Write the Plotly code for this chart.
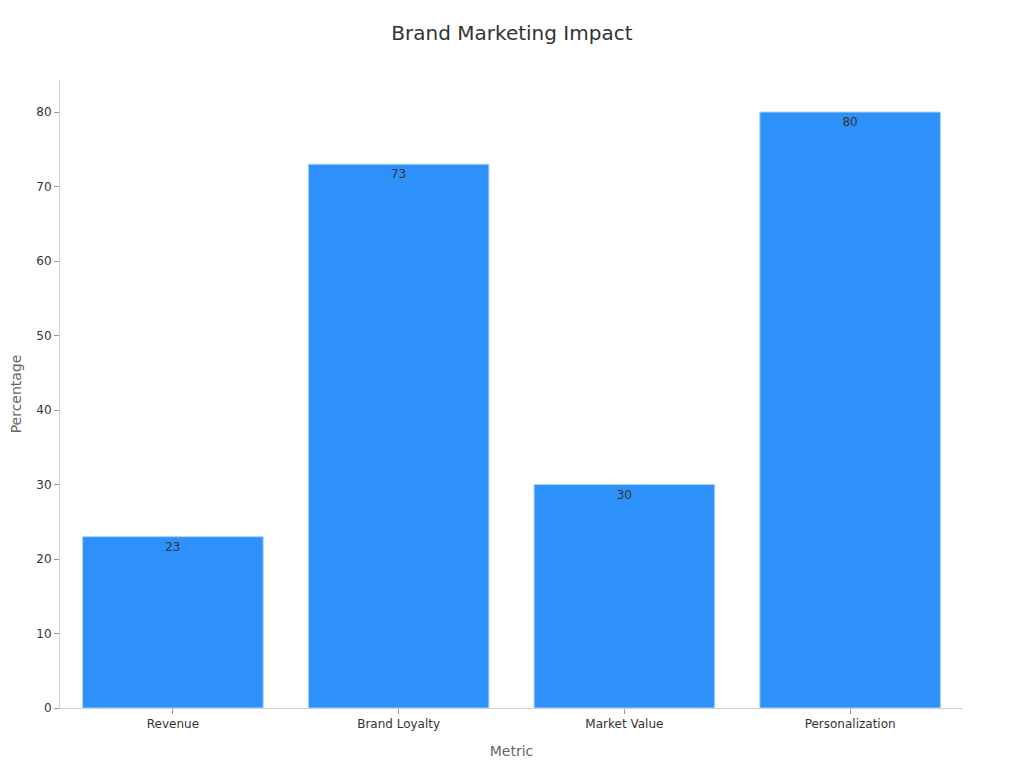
import plotly.graph_objects as go

categories = ["Revenue", "Brand Loyalty", "Market Value", "Personalization"]
values = [23, 73, 30, 80]

fig = go.Figure(go.Bar(
    x=categories,
    y=values,
    text=[str(v) for v in values],
    textposition="inside",
    insidetextanchor="end",
    textfont=dict(family="DejaVu Sans", size=12, color="#333333"),
    marker=dict(color="#2E91F9", line=dict(color="#A8D4FF", width=1)),
    hoverinfo="skip",
))

fig.update_layout(
    width=1016, height=760,
    paper_bgcolor="white", plot_bgcolor="white",
    font=dict(family="DejaVu Sans", color="#333333"),
    title=dict(text="Brand Marketing Impact", x=0.496, xanchor="center", y=0.967, yanchor="middle",
               font=dict(size=20, color="#333333")),
    margin=dict(l=52, r=61, t=72, b=60, autoexpand=False),
    bargap=0.2,
    showlegend=False,
    xaxis=dict(
        title=dict(text="Metric", font=dict(size=14, color="#666666"), standoff=15),
        automargin=False,
        showline=True, linecolor="#D0D0D0", linewidth=1,
        ticks="outside", ticklen=5, tickcolor="#999999",
        tickfont=dict(size=12, color="#333333"),
        showgrid=False,
    ),
    yaxis=dict(
        title=dict(text="Percentage", font=dict(size=14, color="#666666"), standoff=19),
        automargin=False,
        range=[0, 84.3],
        dtick=10,
        showline=True, linecolor="#D0D0D0", linewidth=1,
        ticks="outside", ticklen=5, tickcolor="#999999",
        tickfont=dict(size=12, color="#333333"),
        showgrid=False, zeroline=False,
    ),
)

fig.write_html("out.html")
